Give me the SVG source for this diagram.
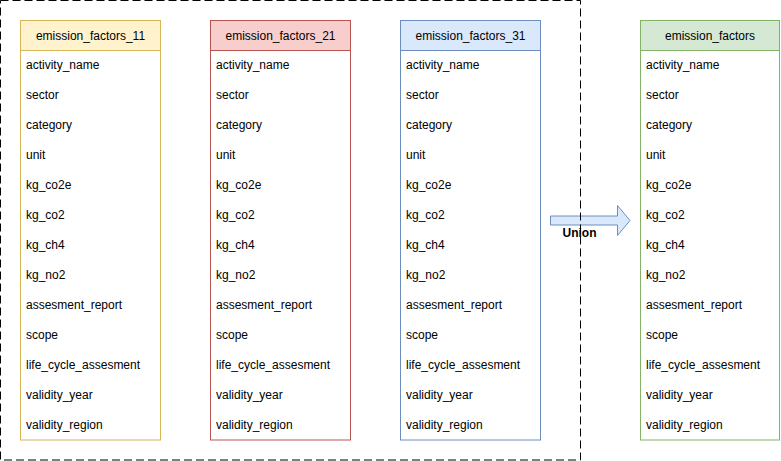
<svg xmlns="http://www.w3.org/2000/svg" width="781" height="461" viewBox="0 0 781 461">
<style>
text{font-family:"Liberation Sans",Arial,sans-serif;font-size:12px;fill:#000}
.h{text-anchor:middle}
.lbl{font-weight:bold;text-anchor:middle}
</style>
<defs>
<g id="rows">
<text x="6" y="69">activity_name</text>
<text x="6" y="99">sector</text>
<text x="6" y="129">category</text>
<text x="6" y="159">unit</text>
<text x="6" y="189">kg_co2e</text>
<text x="6" y="219">kg_co2</text>
<text x="6" y="249">kg_ch4</text>
<text x="6" y="279">kg_no2</text>
<text x="6" y="309">assesment_report</text>
<text x="6" y="339">scope</text>
<text x="6" y="369">life_cycle_assesment</text>
<text x="6" y="399">validity_year</text>
<text x="6" y="429">validity_region</text>
</g>
</defs>
<g id="t11">
<rect x="20.5" y="20.5" width="140" height="419.5" fill="#fff" stroke="#d6b656"/>
<rect x="20.5" y="20.5" width="140" height="30" fill="#fff2cc" stroke="#d6b656"/>
<text class="h" x="90.5" y="39.5">emission_factors_11</text>
<use href="#rows" x="20"/>
</g>
<g id="t21">
<rect x="210.5" y="20.5" width="140" height="419.5" fill="#fff" stroke="#b85450"/>
<rect x="210.5" y="20.5" width="140" height="30" fill="#f8cecc" stroke="#b85450"/>
<text class="h" x="280.5" y="39.5">emission_factors_21</text>
<use href="#rows" x="210"/>
</g>
<g id="t31">
<rect x="400.5" y="20.5" width="140" height="419.5" fill="#fff" stroke="#6c8ebf"/>
<rect x="400.5" y="20.5" width="140" height="30" fill="#dae8fc" stroke="#6c8ebf"/>
<text class="h" x="470.5" y="39.5">emission_factors_31</text>
<use href="#rows" x="400"/>
</g>
<g id="t">
<rect x="640.5" y="20.5" width="139" height="419.5" fill="#fff" stroke="#82b366"/>
<rect x="640.5" y="20.5" width="139" height="30" fill="#d5e8d4" stroke="#82b366"/>
<text class="h" x="710" y="39.5">emission_factors</text>
<use href="#rows" x="640"/>
</g>
<g id="connectors">
<path d="M550.5 216 H617.5 V205.5 L630 220.5 L617.5 235.5 V225 H550.5 Z" fill="#dae8fc" stroke="#6c8ebf"/>
<text class="lbl" x="579.5" y="237">Union</text>
</g>
<g id="group">
<rect x="0.5" y="0.5" width="580" height="459.5" fill="none" stroke="#000" stroke-dasharray="8 4"/>
</g>
</svg>
